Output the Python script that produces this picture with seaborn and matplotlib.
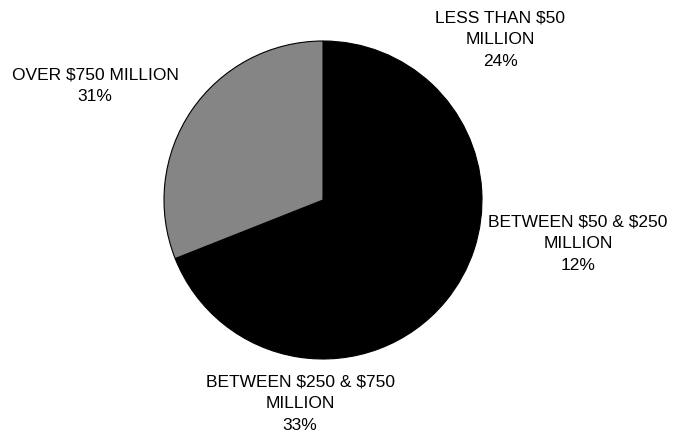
import matplotlib.pyplot as plt
import seaborn as sns

# Dati del grafico (in senso orario partendo dall'alto)
categorie = ["LESS THAN $50\nMILLION", "BETWEEN $50 & $250\nMILLION",
             "BETWEEN $250 & $750\nMILLION", "OVER $750 MILLION"]
percentuali = [24, 12, 33, 31]
colori = ["#000000", "#000000", "#000000", "#858585"]

# Posizioni etichette (pixel, origine in basso a sinistra)
pos_etichette = [(500, 392), (578, 188), (300, 28), (95, 346)]

sns.set_style("white")
plt.rcParams["font.family"] = ["Liberation Sans", "DejaVu Sans"]
plt.rcParams["text.parse_math"] = False

fig = plt.figure(figsize=(6.81, 4.32), dpi=100)
ax = fig.add_axes([0, 0, 1, 1])
ax.set_xlim(0, 681)
ax.set_ylim(0, 432)

wedges, _ = ax.pie(
    percentuali,
    colors=colori,
    startangle=90,
    counterclock=False,
    center=(323, 232),
    radius=159,
    frame=True,
    wedgeprops={"edgecolor": "#000000", "linewidth": 0.8},
)

for cat, val, (x, y) in zip(categorie, percentuali, pos_etichette):
    ax.text(x, y, f"{cat}\n{val}%", ha="center", va="center",
            fontsize=12.5, linespacing=1.55, color="#000000")

ax.set_xlim(0, 681)
ax.set_ylim(0, 432)
ax.set_aspect("equal")
ax.axis("off")

fig.savefig("out.png", dpi=100)
plt.close()
